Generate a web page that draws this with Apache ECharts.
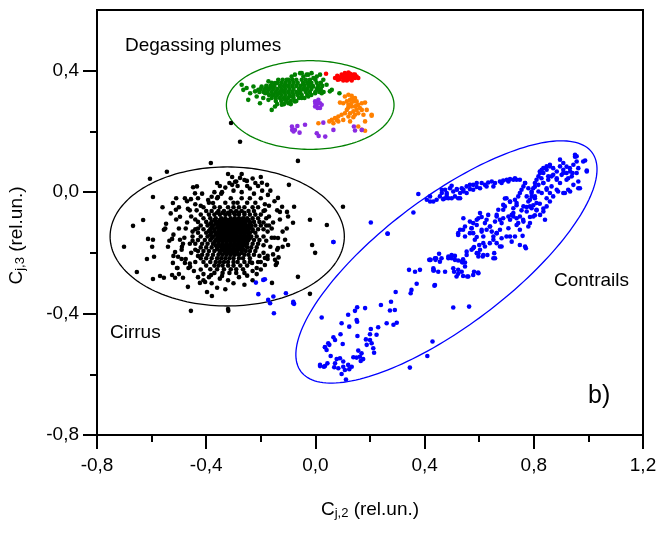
<!DOCTYPE html>
<html>
<head>
<meta charset="utf-8">
<script src="https://cdn.jsdelivr.net/npm/echarts@6/dist/echarts.min.js"></script>
<style>
  html, body { margin: 0; padding: 0; background: #fff; }
  #chart { width: 661px; height: 534px; }
</style>
</head>
<body>
<div id="chart"></div>
<script>
// ---- Axis ticks ----
const xTicks = [-0.8, -0.4, 0.0, 0.4, 0.8, 1.2];
const yMajorTicks = [-0.8, -0.4, 0.0, 0.4];
const yMinorTicks = [-0.6, -0.2, 0.2];

// ---- Cirrus: dense core stored as rows [C_j,3, [C_j,2 ...]] ----
const cirrusCoreRows = [
  [-0.05, [-0.41, -0.37, -0.35, -0.32, -0.30, -0.28, -0.26, -0.23, -0.21]],
  [-0.062, [-0.40, -0.38, -0.355, -0.335, -0.31, -0.29, -0.27, -0.245, -0.225]],
  [-0.074, [-0.42, -0.39, -0.37, -0.35, -0.33, -0.315, -0.295, -0.28, -0.26, -0.24, -0.22, -0.20]],
  [-0.086, [-0.41, -0.385, -0.365, -0.345, -0.33, -0.31, -0.295, -0.28, -0.265, -0.25, -0.23, -0.21]],
  [-0.098, [-0.43, -0.40, -0.38, -0.36, -0.345, -0.33, -0.315, -0.30, -0.285, -0.27, -0.255, -0.24, -0.225, -0.205]],
  [-0.11, [-0.42, -0.395, -0.375, -0.355, -0.34, -0.325, -0.31, -0.295, -0.28, -0.265, -0.25, -0.235, -0.22, -0.20]],
  [-0.122, [-0.44, -0.41, -0.385, -0.37, -0.35, -0.335, -0.32, -0.305, -0.29, -0.275, -0.26, -0.245, -0.23, -0.21]],
  [-0.134, [-0.43, -0.40, -0.38, -0.36, -0.345, -0.33, -0.315, -0.30, -0.285, -0.27, -0.255, -0.24, -0.22]],
  [-0.146, [-0.42, -0.395, -0.375, -0.355, -0.34, -0.325, -0.31, -0.295, -0.28, -0.265, -0.25, -0.235, -0.215]],
  [-0.158, [-0.43, -0.405, -0.385, -0.365, -0.35, -0.335, -0.32, -0.305, -0.29, -0.275, -0.26, -0.245, -0.225]],
  [-0.17, [-0.415, -0.395, -0.375, -0.355, -0.34, -0.325, -0.31, -0.295, -0.28, -0.265, -0.25, -0.23]],
  [-0.182, [-0.42, -0.40, -0.38, -0.36, -0.345, -0.33, -0.315, -0.30, -0.285, -0.27, -0.25, -0.235]],
  [-0.194, [-0.41, -0.39, -0.37, -0.35, -0.335, -0.32, -0.305, -0.29, -0.27, -0.255, -0.24]],
  [-0.206, [-0.395, -0.375, -0.355, -0.34, -0.325, -0.31, -0.295, -0.28, -0.26, -0.245]],
  [-0.218, [-0.40, -0.38, -0.36, -0.345, -0.33, -0.315, -0.30, -0.28, -0.265]],
  [-0.23, [-0.385, -0.365, -0.35, -0.335, -0.32, -0.30, -0.285, -0.26]],
  [-0.242, [-0.37, -0.355, -0.34, -0.32, -0.30, -0.275]],
  // staggered rows in the densest part
  [-0.068, [-0.36, -0.34, -0.32, -0.30, -0.28, -0.26]],
  [-0.092, [-0.37, -0.35, -0.335, -0.32, -0.305, -0.29, -0.275, -0.26, -0.245]],
  [-0.104, [-0.385, -0.365, -0.35, -0.335, -0.32, -0.305, -0.29, -0.275, -0.26, -0.24]],
  [-0.116, [-0.38, -0.36, -0.345, -0.33, -0.315, -0.30, -0.285, -0.27, -0.255, -0.24]],
  [-0.128, [-0.39, -0.37, -0.355, -0.34, -0.325, -0.31, -0.295, -0.28, -0.265, -0.25, -0.23]],
  [-0.14, [-0.385, -0.365, -0.35, -0.335, -0.32, -0.305, -0.29, -0.275, -0.26, -0.245]],
  [-0.152, [-0.38, -0.36, -0.345, -0.33, -0.315, -0.30, -0.285, -0.27, -0.255, -0.24]],
  [-0.164, [-0.37, -0.355, -0.34, -0.325, -0.31, -0.295, -0.28, -0.265, -0.25]],
  [-0.176, [-0.365, -0.35, -0.335, -0.32, -0.305, -0.29, -0.275, -0.26]],
  [-0.188, [-0.36, -0.34, -0.325, -0.31, -0.295, -0.28, -0.265]],
  [-0.20, [-0.35, -0.33, -0.315, -0.30, -0.285, -0.27]]
];

// ---- Cirrus: scattered points [C_j,2, C_j,3] ----
const cirrusScatter = [
  [-0.383, 0.096], [-0.544, 0.067], [-0.606, 0.044], [-0.595, -0.016], [-0.522, -0.036],
  [-0.631, -0.092], [-0.668, -0.111], [-0.701, -0.180], [-0.613, -0.154], [-0.595, -0.157],
  [-0.598, -0.180], [-0.617, -0.220], [-0.591, -0.213], [-0.654, -0.263], [-0.595, -0.286],
  [-0.569, -0.276], [-0.555, -0.282], [-0.525, -0.273], [-0.514, -0.282], [-0.485, -0.282],
  [-0.467, -0.312], [-0.423, -0.299], [-0.404, -0.296], [-0.397, -0.329], [-0.379, -0.342],
  [-0.456, -0.391], [-0.319, -0.391], [-0.547, -0.104], [-0.555, -0.124], [-0.540, -0.180],
  [-0.525, -0.154], [-0.514, -0.197], [-0.503, -0.213], [-0.522, -0.233], [-0.507, -0.250],
  [-0.478, -0.233], [-0.459, -0.246], [-0.511, -0.058], [-0.496, -0.081], [-0.467, -0.055],
  [-0.478, -0.020], [-0.456, -0.023], [-0.441, -0.004], [-0.448, 0.016], [-0.434, 0.019],
  [-0.393, -0.026], [-0.375, -0.036], [-0.342, 0.000], [-0.357, -0.016], [-0.382, -0.273],
  [-0.342, -0.276], [-0.496, -0.157], [-0.489, -0.180],
  [-0.064, 0.103], [-0.276, 0.047], [-0.251, 0.037], [-0.294, 0.034], [-0.305, 0.024],
  [-0.196, 0.031], [-0.177, 0.024], [-0.097, 0.024], [-0.174, -0.009], [-0.137, -0.019],
  [-0.122, -0.048], [-0.104, -0.065], [-0.130, -0.065], [-0.078, -0.048], [-0.082, -0.101],
  [-0.020, -0.091], [0.042, -0.108], [0.101, -0.048], [-0.137, -0.151], [-0.111, -0.157],
  [-0.100, -0.174], [-0.137, -0.184], [-0.012, -0.174], [-0.001, -0.200], [-0.148, -0.223],
  [-0.141, -0.233], [-0.185, -0.217], [-0.210, -0.230], [-0.232, -0.233], [-0.064, -0.279],
  [-0.159, -0.299], [-0.020, -0.335], [-0.320, -0.385], [-0.309, 0.228], [-0.276, 0.166],
  [-0.33, 0.015], [-0.315, 0.03], [-0.30, 0.005], [-0.285, 0.02], [-0.27, 0.0],
  [-0.345, -0.005], [-0.26, 0.04], [-0.24, 0.012], [-0.225, -0.005], [-0.21, 0.02],
  [-0.36, 0.03], [-0.23, 0.045], [-0.305, 0.05], [-0.195, 0.005], [-0.20, -0.02],
  [-0.165, 0.005], [-0.15, -0.03], [-0.17, -0.045], [-0.185, -0.04],
  [-0.46, -0.06], [-0.47, -0.10], [-0.45, -0.13], [-0.48, -0.15], [-0.46, -0.17],
  [-0.455, -0.20], [-0.475, -0.22], [-0.44, -0.23], [-0.445, -0.26], [-0.43, -0.28],
  [-0.50, -0.12], [-0.49, -0.19], [-0.44, -0.04], [-0.43, -0.02], [-0.47, -0.03],
  [-0.415, -0.005], [-0.50, -0.05], [-0.51, -0.09], [-0.52, -0.14], [-0.505, -0.25],
  [-0.17, -0.08], [-0.155, -0.10], [-0.16, -0.12], [-0.175, -0.13], [-0.15, -0.15],
  [-0.18, -0.16], [-0.165, -0.18], [-0.19, -0.20], [-0.175, -0.21], [-0.20, -0.23],
  [-0.185, -0.24], [-0.155, -0.205], [-0.14, -0.06], [-0.13, -0.09], [-0.12, -0.13],
  [-0.20, -0.255], [-0.215, -0.27], [-0.145, -0.24],
  [-0.35, -0.285], [-0.32, -0.29], [-0.28, -0.28], [-0.30, -0.30], [-0.25, -0.275],
  [-0.23, -0.29], [-0.38, -0.30], [-0.41, -0.29], [-0.36, -0.315], [-0.26, -0.305],
  [-0.33, -0.32], [-0.36, -0.02], [-0.31, -0.02], [-0.27, -0.02], [-0.24, -0.02],
  [-0.39, -0.035], [-0.33, -0.035], [-0.30, -0.035], [-0.285, -0.035], [-0.25, -0.035],
  [-0.22, -0.035], [-0.19, -0.062], [-0.18, -0.086], [-0.18, -0.11], [-0.19, -0.122],
  [-0.45, -0.146], [-0.19, -0.146], [-0.205, -0.158], [-0.44, -0.17], [-0.21, -0.17],
  [-0.215, -0.182], [-0.43, -0.194], [-0.22, -0.194], [-0.415, -0.206], [-0.225, -0.206],
  [-0.42, -0.218], [-0.24, -0.218], [-0.41, -0.23], [-0.24, -0.23], [-0.40, -0.242],
  [-0.25, -0.242], [-0.385, -0.254], [-0.36, -0.254], [-0.335, -0.254], [-0.31, -0.254],
  [-0.29, -0.254], [-0.265, -0.254], [-0.37, -0.266], [-0.34, -0.266], [-0.315, -0.266],
  [-0.29, -0.266], [-0.26, -0.266],
  [-0.44, -0.09], [-0.43, -0.12], [-0.45, -0.16], [-0.44, -0.19], [-0.43, -0.21],
  [-0.46, -0.235], [-0.42, -0.255], [-0.41, -0.27], [-0.39, -0.28], [-0.435, -0.06],
  [-0.42, -0.045], [-0.455, -0.08], [-0.475, -0.12], [-0.485, -0.17], [-0.49, -0.22],
  [-0.465, -0.25], [-0.50, -0.27], [-0.52, -0.21], [-0.535, -0.16], [-0.55, -0.12],
  [-0.53, -0.07], [-0.56, -0.05], [-0.51, -0.02],
  [-0.37, 0.0], [-0.35, 0.02], [-0.38, -0.015], [-0.29, 0.035], [-0.25, 0.02],
  [-0.27, 0.06], [-0.32, 0.06], [-0.22, 0.03], [-0.20, 0.05],
  [-0.19, -0.10], [-0.185, -0.06], [-0.17, -0.11], [-0.16, -0.15], [-0.19, -0.175],
  [-0.175, -0.22], [-0.205, -0.21], [-0.215, -0.25], [-0.23, -0.26], [-0.14, -0.19],
  [-0.135, -0.215], [-0.12, -0.18], [-0.105, -0.12], [-0.10, -0.08]
];

// ---- Contrails [C_j,2, C_j,3] ----
const contrails = [
  // points just below the cirrus cluster
  [-0.218, -0.298], [-0.209, -0.336], [-0.191, -0.289], [-0.185, -0.287], [-0.173, -0.355],
  [-0.166, -0.366], [-0.152, -0.399], [-0.154, -0.344], [-0.108, -0.333], [-0.081, -0.361],
  [-0.078, -0.368], [0.066, -0.164], [-0.081, -0.366],
  // lower branch
  [0.265, -0.137], [0.066, -0.164], [0.023, -0.413], [0.417, -0.223], [0.44, -0.223],
  [0.453, -0.203], [0.343, -0.256], [0.365, -0.262], [0.383, -0.256], [0.434, -0.258],
  [0.371, -0.302], [0.436, -0.308], [0.352, -0.322], [0.349, -0.333], [0.294, -0.329],
  [0.24, -0.372], [0.277, -0.361], [0.273, -0.39], [0.291, -0.388], [0.182, -0.382],
  [0.153, -0.379], [0.145, -0.391], [0.12, -0.404], [0.151, -0.421], [0.153, -0.427],
  [0.096, -0.432], [0.124, -0.443], [0.23, -0.445], [0.261, -0.432], [0.286, -0.437],
  [0.298, -0.43], [0.203, -0.451], [0.092, -0.468], [0.2, -0.468], [0.224, -0.47],
  [0.066, -0.478], [0.072, -0.487], [0.051, -0.503], [0.1, -0.5], [0.154, -0.474],
  [0.185, -0.485], [0.2, -0.487], [0.206, -0.498], [0.188, -0.503], [0.212, -0.514],
  [0.215, -0.529], [0.035, -0.511], [0.041, -0.52], [0.157, -0.522], [0.169, -0.531],
  [0.139, -0.544], [0.151, -0.545], [0.163, -0.542], [0.175, -0.55], [0.166, -0.556],
  [0.056, -0.54], [0.078, -0.55], [0.09, -0.547], [0.102, -0.558], [0.072, -0.564],
  [0.044, -0.564], [0.017, -0.573], [0.031, -0.575], [0.069, -0.577], [0.084, -0.58],
  [0.102, -0.575], [0.12, -0.569], [0.133, -0.575], [0.124, -0.583], [0.108, -0.586],
  [0.096, -0.599], [0.112, -0.617], [0.346, -0.578], [0.41, -0.54], [0.429, -0.492],
  [0.035, -0.51], [0.047, -0.498], [0.017, -0.569], [0.035, -0.573],
  [0.203, -0.1], [0.264, -0.136], [0.359, -0.067], [0.505, -0.38], [0.563, -0.377],
  [0.432, -0.258],
  // middle of the main branch
  [0.422, -0.223], [0.442, -0.218], [0.456, -0.229], [0.487, -0.212], [0.499, -0.218],
  [0.511, -0.21], [0.523, -0.225], [0.541, -0.221], [0.548, -0.232], [0.508, -0.262],
  [0.523, -0.269], [0.541, -0.276], [0.556, -0.278], [0.581, -0.262], [0.596, -0.265],
  [0.539, -0.232], [0.554, -0.196], [0.572, -0.19], [0.581, -0.181], [0.6, -0.174],
  [0.615, -0.168], [0.597, -0.201], [0.613, -0.212], [0.63, -0.207], [0.652, -0.218],
  [0.655, -0.201], [0.591, -0.148], [0.609, -0.13], [0.627, -0.124], [0.64, -0.113],
  [0.664, -0.135], [0.682, -0.152], [0.652, -0.146], [0.523, -0.135], [0.541, -0.124],
  [0.548, -0.146], [0.566, -0.135], [0.572, -0.119], [0.578, -0.102], [0.591, -0.091],
  [0.609, -0.082], [0.713, -0.146], [0.719, -0.163], [0.749, -0.174], [0.759, -0.144],
  [0.771, -0.185], [0.664, -0.168], [0.676, -0.179],
  [0.664, -0.075], [0.676, -0.091], [0.688, -0.058], [0.707, -0.08], [0.725, -0.069],
  [0.737, -0.086], [0.743, -0.102], [0.761, -0.091], [0.78, -0.113], [0.786, -0.082],
  [0.694, -0.021], [0.713, -0.032], [0.737, -0.043], [0.755, -0.06], [0.774, -0.049],
  [0.798, -0.043], [0.81, -0.06], [0.822, -0.038], [0.835, -0.054], [0.804, -0.076],
  [0.749, 0.041], [0.768, 0.03], [0.78, 0.013], [0.792, 0.002], [0.804, 0.018],
  [0.817, 0.024], [0.835, 0.03], [0.847, 0.013], [0.859, -0.003], [0.792, -0.014],
  [0.804, -0.014], [0.847, -0.02],
  [0.822, 0.068], [0.835, 0.063], [0.847, 0.074], [0.859, 0.085], [0.828, 0.046],
  [0.853, 0.052], [0.871, 0.057], [0.884, 0.041],
  [0.896, 0.107], [0.908, 0.096], [0.92, 0.084], [0.933, 0.068], [0.951, 0.117],
  [0.957, 0.101], [0.963, 0.079], [0.988, 0.104], [0.994, 0.071], [0.908, 0.063],
  [0.926, 0.046], [0.942, 0.063], [0.963, 0.013], [0.914, -0.003], [0.933, 0.002],
  [0.889, 0.002],
  [0.530, -0.124], [0.523, -0.141], [0.542, -0.086], [0.548, -0.113], [0.566, -0.097],
  [0.572, -0.119], [0.578, -0.135], [0.584, -0.157], [0.591, -0.108], [0.597, -0.086],
  [0.603, -0.069], [0.609, -0.124], [0.615, -0.146], [0.621, -0.102], [0.627, -0.091],
  [0.633, -0.075], [0.639, -0.113], [0.646, -0.13], [0.652, -0.157], [0.658, -0.097],
  [0.664, -0.08], [0.670, -0.058], [0.676, -0.124], [0.682, -0.102], [0.688, -0.086],
  [0.664, -0.135], [0.639, -0.168], [0.621, -0.179], [0.603, -0.19], [0.591, -0.201],
  [0.578, -0.185], [0.597, -0.212], [0.615, -0.207], [0.658, -0.218], [0.682, -0.179],
  [0.700, -0.146], [0.707, -0.119], [0.713, -0.091], [0.719, -0.075], [0.725, -0.053],
  [0.731, -0.025], [0.737, -0.036], [0.743, -0.014], [0.749, -0.003], [0.755, 0.008],
  [0.762, 0.019], [0.768, 0.03], [0.774, -0.014], [0.780, -0.031], [0.786, -0.047],
  [0.792, -0.003], [0.798, 0.013], [0.804, 0.03], [0.810, 0.041], [0.817, 0.052],
  [0.823, 0.063], [0.829, 0.074], [0.835, 0.079], [0.847, 0.085], [0.859, 0.09],
  [0.871, 0.079], [0.884, 0.068], [0.896, 0.085], [0.908, 0.074], [0.920, 0.063],
  [0.932, 0.079], [0.945, 0.09], [0.957, 0.118], [0.951, 0.123], [0.981, 0.101],
  [0.994, 0.068], [0.969, 0.013], [0.926, 0.008], [0.908, -0.003], [0.896, 0.03],
  [0.884, 0.008], [0.871, -0.014], [0.859, -0.031], [0.847, -0.047], [0.835, -0.064],
  [0.841, -0.091], [0.823, -0.075], [0.810, -0.058], [0.798, -0.08], [0.786, -0.102],
  [0.774, -0.064], [0.762, -0.097], [0.749, -0.08], [0.737, -0.108], [0.731, -0.146],
  [0.749, -0.124], [0.768, -0.179], [0.786, -0.025], [0.804, -0.02], [0.817, 0.002],
  [0.835, 0.03], [0.853, 0.041], [0.865, 0.052], [0.884, 0.046], [0.902, 0.057],
  [0.920, 0.041], [0.939, 0.052], [0.957, 0.063], [0.963, 0.035], [0.945, 0.024],
  [0.865, 0.019], [0.847, 0.008], [0.829, -0.003], [0.810, -0.036], [0.792, -0.053],
  [0.762, -0.047], [0.725, -0.08], [0.694, -0.047], [0.713, -0.031], [0.700, -0.02],
  [0.688, -0.042],
  [0.499, -0.207], [0.487, -0.218], [0.511, -0.223], [0.505, -0.251], [0.523, -0.256],
  [0.536, -0.262], [0.548, -0.245], [0.560, -0.278], [0.578, -0.273], [0.597, -0.267],
  [0.517, -0.278], [0.462, -0.218], [0.438, -0.218], [0.420, -0.223], [0.432, -0.251],
  [0.450, -0.262], [0.475, -0.262], [0.438, -0.306], [0.536, -0.229], [0.554, -0.207],
  // upper, nearly flat branch
  [0.377, -0.006], [0.408, -0.025], [0.42, -0.031], [0.432, -0.031], [0.42, -0.014],
  [0.444, -0.025], [0.456, -0.014], [0.463, 0.008], [0.463, -0.003], [0.468, -0.023],
  [0.475, 0.008], [0.475, -0.02], [0.481, -0.009], [0.481, -0.003], [0.487, -0.02],
  [0.493, 0.013], [0.499, 0.021], [0.499, -0.02], [0.505, 0.002], [0.511, -0.014],
  [0.518, 0.01], [0.518, 0.008], [0.523, -0.02], [0.53, -0.003], [0.53, -0.02],
  [0.536, 0.013], [0.542, 0.002], [0.542, 0.008], [0.554, 0.019], [0.554, -0.003],
  [0.566, 0.01], [0.566, 0.024], [0.578, 0.024], [0.578, 0.008], [0.591, 0.017],
  [0.591, 0.03], [0.603, 0.013], [0.609, 0.03], [0.621, 0.024], [0.627, 0.019],
  [0.633, 0.032], [0.646, 0.035], [0.652, 0.019], [0.658, 0.03], [0.676, 0.035],
  [0.682, 0.03], [0.688, 0.038], [0.701, 0.041], [0.707, 0.035], [0.713, 0.043],
  [0.725, 0.041], [0.731, 0.046], [0.737, 0.041]
];

// ---- Degassing plumes [C_j,2, C_j,3] ----
const plumeGreenRows = [
  [0.37, [-0.12, -0.105, -0.085, -0.07, -0.05, -0.035, -0.02, 0.0]],
  [0.36, [-0.16, -0.14, -0.125, -0.11, -0.095, -0.08, -0.065, -0.045, -0.03, -0.015, 0.005, 0.02]],
  [0.35, [-0.18, -0.165, -0.15, -0.13, -0.115, -0.10, -0.085, -0.07, -0.055, -0.04, -0.025, -0.01, 0.01, 0.025]],
  [0.34, [-0.20, -0.185, -0.17, -0.155, -0.14, -0.125, -0.11, -0.095, -0.08, -0.06, -0.045, -0.03, -0.015, 0.005, 0.02]],
  [0.33, [-0.205, -0.19, -0.175, -0.16, -0.145, -0.13, -0.115, -0.10, -0.085, -0.07, -0.055, -0.035, -0.02, 0.0, 0.015, 0.03]],
  [0.32, [-0.17, -0.155, -0.14, -0.125, -0.11, -0.095, -0.08, -0.065, -0.05, -0.03, -0.015]],
  [0.31, [-0.16, -0.145, -0.13, -0.115, -0.10, -0.08, -0.06, -0.04]],
  [0.30, [-0.145, -0.125, -0.105, -0.09, -0.07]],
  [0.29, [-0.14, -0.115, -0.09]]
];
const plumeGreen = [
  [-0.270, 0.354], [-0.252, 0.343], [-0.264, 0.337], [-0.239, 0.326], [-0.246, 0.304],
  [-0.221, 0.332], [-0.209, 0.337], [-0.197, 0.348], [-0.203, 0.293], [-0.184, 0.326],
  [-0.172, 0.365], [-0.160, 0.348], [-0.148, 0.359], [-0.136, 0.370], [-0.172, 0.304],
  [-0.160, 0.271], [-0.148, 0.282], [-0.136, 0.326], [-0.123, 0.337], [-0.111, 0.354],
  [-0.099, 0.370], [-0.087, 0.381], [-0.075, 0.387], [-0.056, 0.392], [-0.044, 0.381],
  [-0.026, 0.387], [-0.007, 0.376], [-0.111, 0.304], [-0.087, 0.315], [-0.062, 0.326],
  [-0.038, 0.337], [-0.014, 0.348], [-0.001, 0.326], [-0.123, 0.288], [-0.099, 0.293],
  [-0.075, 0.299], [-0.050, 0.310], [-0.026, 0.315], [-0.154, 0.321], [-0.178, 0.343],
  [-0.215, 0.315], [-0.191, 0.310], [-0.227, 0.348],
  [-0.050, 0.392], [-0.032, 0.387], [-0.014, 0.392], [0.005, 0.381], [0.017, 0.387],
  [0.029, 0.370], [0.041, 0.354], [0.053, 0.332], [-0.008, 0.348], [0.011, 0.337],
  [0.023, 0.326], [-0.026, 0.359], [-0.044, 0.354], [0.088, 0.326], [0.060, 0.337]
];
const plumeRed = [
  [0.039, 0.390], [0.072, 0.376], [0.080, 0.383], [0.088, 0.372], [0.096, 0.387],
  [0.102, 0.379], [0.108, 0.392], [0.115, 0.383], [0.121, 0.372], [0.127, 0.390],
  [0.133, 0.379], [0.139, 0.387], [0.145, 0.376], [0.151, 0.381], [0.157, 0.376],
  [0.115, 0.368], [0.133, 0.368], [0.121, 0.394], [0.102, 0.368], [0.145, 0.387],
  [0.093, 0.379], [0.082, 0.370], [0.110, 0.378], [0.125, 0.380], [0.140, 0.378]
];
const plumeOrange = [
  [0.108, 0.315], [0.121, 0.321], [0.133, 0.317], [0.145, 0.310], [0.151, 0.299],
  [0.139, 0.299], [0.127, 0.304], [0.115, 0.299], [0.102, 0.293], [0.090, 0.295],
  [0.121, 0.288], [0.133, 0.282], [0.145, 0.282], [0.157, 0.288], [0.170, 0.293],
  [0.182, 0.295], [0.163, 0.277], [0.151, 0.271], [0.139, 0.266], [0.127, 0.260],
  [0.115, 0.271], [0.108, 0.260], [0.096, 0.255], [0.084, 0.249], [0.072, 0.244],
  [0.060, 0.238], [0.051, 0.233], [0.066, 0.227], [0.084, 0.233], [0.102, 0.238],
  [0.127, 0.233], [0.145, 0.255], [0.157, 0.260], [0.176, 0.255], [0.188, 0.271],
  [0.206, 0.255], [0.182, 0.233], [0.157, 0.216], [0.170, 0.205], [0.011, 0.227],
  [0.139, 0.247], [0.121, 0.249], [0.170, 0.271], [0.078, 0.238], [0.206, 0.252],
  [0.182, 0.202], [0.130, 0.290], [0.140, 0.308], [0.150, 0.285], [0.120, 0.278]
];
const plumePurple = [
  [-0.001, 0.299], [0.005, 0.288], [0.011, 0.304], [0.017, 0.293], [0.008, 0.277],
  [0.017, 0.277], [-0.001, 0.282], [0.023, 0.288], [0.000, 0.292], [0.010, 0.296],
  [-0.086, 0.216], [-0.080, 0.200], [-0.066, 0.218], [-0.058, 0.196], [-0.038, 0.222],
  [0.005, 0.194], [0.012, 0.185], [0.036, 0.183], [0.029, 0.229], [0.066, 0.205],
  [0.141, 0.216], [0.145, 0.203], [0.170, 0.205], [-0.075, 0.205], [-0.085, 0.205]
];

// ---- Group outlines: [centre x, centre y, semi-axis A (x, y), conjugate semi-axis B (x, y)] ----
const outlineCirrus = [-0.323, -0.146, 0.429, 0, 0, 0.229];
const outlinePlumes = [-0.019, 0.287, 0.307, 0, 0, 0.146];
const outlineContrails = [0.480, -0.230, 0.533, 0.361, 0.142, -0.170];

function fromRows(rows) {
  const out = [];
  rows.forEach(function (r) { r[1].forEach(function (x) { out.push([x, r[0]]); }); });
  return out;
}

const cirrus = fromRows(cirrusCoreRows).concat(cirrusScatter);
const green = fromRows(plumeGreenRows).concat(plumeGreen);

const FONT = "'Liberation Sans', Arial, sans-serif";
const fmt = function (v) { return (Math.round(v * 10) / 10).toFixed(1).replace('.', ','); };

function dots(name, data, color, z) {
  return {
    name: name, type: 'scatter', data: data, symbol: 'circle', symbolSize: 4.6,
    itemStyle: { color: color, opacity: 1 }, z: z, silent: true, animation: false
  };
}

function outline(params, color) {
  return {
    type: 'custom', coordinateSystem: 'cartesian2d', data: [params], silent: true, z: 4,
    animation: false,
    renderItem: function (p, api) {
      const pts = [];
      const n = 180;
      for (let i = 0; i <= n; i++) {
        const t = i / n * 2 * Math.PI;
        const c = Math.cos(t), s = Math.sin(t);
        pts.push(api.coord([
          api.value(0) + api.value(2) * c + api.value(4) * s,
          api.value(1) + api.value(3) * c + api.value(5) * s
        ]));
      }
      return { type: 'polyline', shape: { points: pts }, style: { fill: 'none', stroke: color, lineWidth: 1.3 } };
    }
  };
}

const titleRich = {
  c: { fontSize: 19, fontFamily: FONT, color: '#000', verticalAlign: 'top', lineHeight: 20 },
  s: { fontSize: 13, fontFamily: FONT, color: '#000', verticalAlign: 'bottom', lineHeight: 13, padding: [14, 0, 0, 0] }
};

const chart = echarts.init(document.getElementById('chart'), null, { renderer: 'canvas' });
chart.setOption({
  animation: false,
  backgroundColor: '#fff',
  grid: {
    left: 97, right: 18, top: 10, bottom: 99, show: true, borderColor: '#000', borderWidth: 2,
    containLabel: false, outerBoundsMode: 'none'
  },
  xAxis: {
    type: 'value', min: -0.8, max: 1.2, interval: 0.4,
    axisLine: { show: true, onZero: false, lineStyle: { color: '#000', width: 2 } },
    axisTick: { show: true, inside: false, length: 14, lineStyle: { color: '#000', width: 2 } },
    minorTick: { show: true, splitNumber: 2, length: 7, lineStyle: { color: '#000', width: 2 } },
    splitLine: { show: false },
    axisLabel: { margin: 21, color: '#000', fontSize: 19, fontFamily: FONT, formatter: fmt,
      customValues: xTicks },
    name: '{c|C}{s|j,2}{c| (rel.un.)}',
    nameLocation: 'middle', nameGap: 65,
    nameTextStyle: { fontFamily: FONT, color: '#000', rich: titleRich }
  },
  yAxis: [{
    type: 'value', min: -0.8, max: 0.6,
    axisLine: { show: true, onZero: false, lineStyle: { color: '#000', width: 2 } },
    axisTick: { show: true, inside: false, length: 14, customValues: yMajorTicks, lineStyle: { color: '#000', width: 2 } },
    splitLine: { show: false },
    axisLabel: { margin: 18, color: '#000', fontSize: 19, fontFamily: FONT, formatter: fmt, customValues: yMajorTicks },
    name: '{c|C}{s|j,3}{c| (rel.un.)}',
    nameLocation: 'middle', nameGap: 70, nameRotate: 90,
    nameTextStyle: { fontFamily: FONT, color: '#000', padding: [0, 26, 0, 0], rich: titleRich }
  }, {
    type: 'value', min: -0.8, max: 0.6, position: 'left',
    axisLine: { show: false, onZero: false },
    axisTick: { show: true, inside: false, length: 7, customValues: yMinorTicks, lineStyle: { color: '#000', width: 2 } },
    axisLabel: { show: false },
    splitLine: { show: false }
  }],
  graphic: [
    { type: 'text', left: 125, top: 36, style: { text: 'Degassing plumes', fontSize: 19, fontFamily: FONT, fill: '#000' } },
    { type: 'text', left: 110, top: 323, style: { text: 'Cirrus', fontSize: 19, fontFamily: FONT, fill: '#000' } },
    { type: 'text', left: 554, top: 271, style: { text: 'Contrails', fontSize: 19, fontFamily: FONT, fill: '#000' } },
    { type: 'text', left: 588, top: 384, style: { text: 'b)', fontSize: 25, fontFamily: FONT, fill: '#000' } }
  ],
  series: [
    outline(outlineCirrus, '#000000'),
    outline(outlinePlumes, '#008000'),
    outline(outlineContrails, '#0000ff'),
    dots('Cirrus', cirrus, '#000000', 5),
    dots('Contrails', contrails, '#0000ff', 5),
    dots('Plumes 1', green, '#008000', 6),
    dots('Plumes 2', plumeRed, '#ff0000', 7),
    dots('Plumes 3', plumeOrange, '#ff8000', 7),
    dots('Plumes 4', plumePurple, '#8a2be2', 8)
  ]
});
</script>
</body>
</html>
